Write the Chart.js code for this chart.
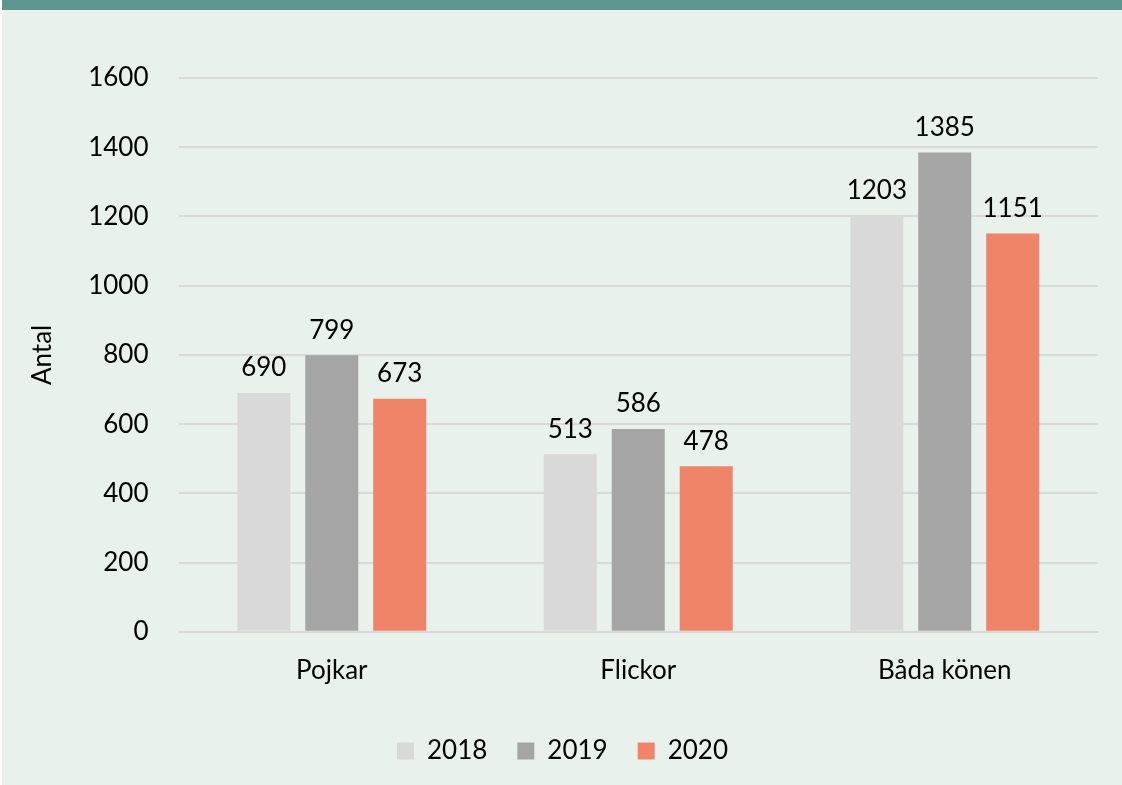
<!DOCTYPE html>
<html>
<head>
<meta charset="utf-8">
<script src="https://cdn.jsdelivr.net/npm/chart.js@4"></script>
<style>
    html, body { margin: 0; padding: 0; background: #ffffff; }
    #wrap {
        position: absolute; left: 2px; top: 0; width: 1120px; height: 785px;
        background: #e8f1ec; border-top: 10px solid #5f9790; box-sizing: border-box;
    }
    #chart { display: block; }
</style>
</head>
<body>
<div id="wrap"><canvas id="chart" width="1120" height="775"></canvas></div>
<script>
var CATEGORIES = ['Pojkar', 'Flickor', 'Båda könen'];
var YEARS = ['2018', '2019', '2020'];
var VALUES_2018 = [690, 513, 1203];
var VALUES_2019 = [799, 586, 1385];
var VALUES_2020 = [673, 478, 1151];
var COLORS = ['#d9d9d9', '#a5a5a5', '#f08468'];
var FONT = 'Lato, "DejaVu Sans", sans-serif';

var barLabels = {
    id: 'barLabels',
    afterDatasetsDraw: function(chart) {
        var ctx = chart.ctx;
        ctx.save();
        ctx.font = '26px ' + FONT;
        ctx.fillStyle = '#000000';
        ctx.textAlign = 'center';
        ctx.textBaseline = 'bottom';
        chart.data.datasets.forEach(function(ds, i) {
            chart.getDatasetMeta(i).data.forEach(function(bar, j) {
                ctx.fillText(ds.data[j], bar.x, bar.y - 12);
            });
        });
        ctx.restore();
    }
};

// extra room under the legend so the plot sits higher
var legendGap = {
    id: 'legendGap',
    beforeInit: function(chart) {
        var fit = chart.legend.fit;
        chart.legend.fit = function() {
            fit.call(this);
            this.height += 11;
        };
    }
};

var chart = new Chart(document.getElementById('chart'), {
    type: 'bar',
    data: {
        labels: CATEGORIES,
        datasets: [
            { label: YEARS[0], data: VALUES_2018, backgroundColor: COLORS[0] },
            { label: YEARS[1], data: VALUES_2019, backgroundColor: COLORS[1] },
            { label: YEARS[2], data: VALUES_2020, backgroundColor: COLORS[2] }
        ]
    },
    options: {
        responsive: false,
        animation: false,
        layout: { padding: { left: 25, right: 24, top: 68, bottom: 0 } },
        datasets: {
            bar: { categoryPercentage: 0.665, barPercentage: 0.78 }
        },
        scales: {
            x: {
                grid: { display: false },
                border: { color: '#d9d9d9', width: 2 },
                ticks: { color: '#000000', font: { family: FONT, size: 26 }, padding: 15 },
                afterFit: function(scale) { scale.height += 7; }
            },
            y: {
                min: 0, max: 1600,
                ticks: {
                    stepSize: 200, color: '#000000', font: { family: FONT, size: 26 }, padding: 30,
                    callback: function(v) { return String(v); }
                },
                grid: { color: '#d9d9d9', lineWidth: 2, drawTicks: false },
                border: { display: false },
                title: { display: true, text: 'Antal', color: '#000000', font: { family: FONT, size: 26 }, padding: 0 }
            }
        },
        plugins: {
            legend: {
                position: 'bottom',
                labels: {
                    color: '#000000',
                    font: { family: FONT, size: 26 },
                    boxWidth: 17, boxHeight: 17, padding: 30
                }
            },
            tooltip: { enabled: false }
        }
    },
    plugins: [barLabels, legendGap]
});
</script>
</body>
</html>
